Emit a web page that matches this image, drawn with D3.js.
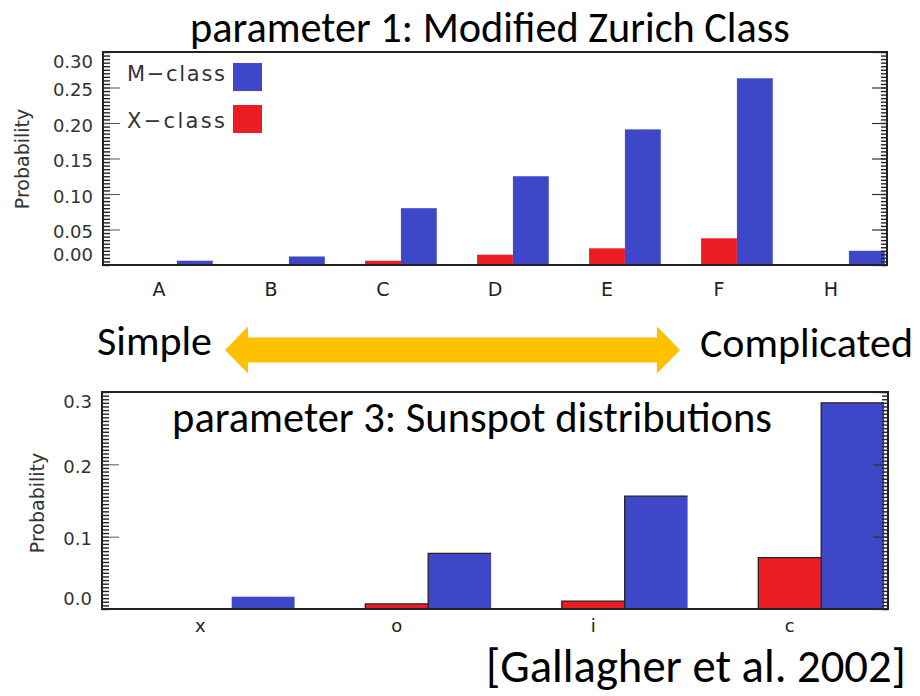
<!DOCTYPE html>
<html><head><meta charset="utf-8">
<script src="https://cdn.jsdelivr.net/npm/d3@7"></script>
<style>body{margin:0;background:#fff;} svg{display:block;}</style>
</head><body>
<svg id="chart" width="920" height="696"></svg>
<script>
// ---------- data ----------
const zurichCats = ["A","B","C","D","E","F","H"];
const zurichM = [0.006, 0.012, 0.080, 0.125, 0.191, 0.263, 0.020];
const zurichX = [0.000, 0.001, 0.006, 0.0145, 0.0235, 0.0376, 0.000];
const zurichTicks = [0, 0.05, 0.10, 0.15, 0.20, 0.25, 0.30];
const zurichTickLabels = ["0.00","0.05","0.10","0.15","0.20","0.25","0.30"];

const spotCats = ["x","o","i","c"];
const spotM = [0.017, 0.077, 0.156, 0.285];
const spotX = [0.000, 0.007, 0.011, 0.071];
const spotTicks = [0, 0.1, 0.2, 0.3];
const spotTickLabels = ["0.0","0.1","0.2","0.3"];

const seriesNames = ["X-class","M-class"];
const legendLabels = ["M\u2212class","X\u2212class"];
const colors = {"M-class":"#3f47c9","X-class":"#ec1c24"};

const titleTop = "parameter 1: Modified Zurich Class";
const titleBottom = "parameter 3: Sunspot distributions";
const leftWord = "Simple", rightWord = "Complicated";
const citation = "[Gallagher et al. 2002]";

// ---------- drawing ----------
const svg = d3.select("#chart");
const sans = "Carlito, Lato, 'Open Sans', sans-serif";
const idl = "'DejaVu Sans', sans-serif";

function fitText(sel, width) {
  sel.attr("font-size", 100);
  const w = sel.node().getComputedTextLength();
  sel.attr("font-size", 100 * width / w);
}

function panel(cfg) {
  const g = svg.append("g");
  const x = d3.scaleBand().domain(cfg.cats).range([cfg.x0, cfg.x1]).padding(0);
  const bw = x.bandwidth();
  const xs = d3.scaleBand().domain(seriesNames).range([0.34 * bw, 0.98 * bw]).padding(0);
  const y = d3.scaleLinear().domain([0, 0.30]).range([cfg.y0, cfg.y1]);

  const rows = [];
  cfg.cats.forEach((c, i) => {
    rows.push({cat: c, s: "X-class", v: cfg.xv[i]});
    rows.push({cat: c, s: "M-class", v: cfg.mv[i]});
  });

  g.selectAll("rect.bar").data(rows.filter(d => d.v > 0)).join("rect")
    .attr("class","bar")
    .attr("x", d => x(d.cat) + xs(d.s))
    .attr("width", xs.bandwidth())
    .attr("y", d => y(d.v))
    .attr("height", d => y(0) - y(d.v))
    .attr("fill", d => colors[d.s]);

  if (cfg.outline) {
    g.selectAll("path.edge").data(rows.filter(d => d.v > 0.005 && !(d.cat === cfg.cats[0]))).join("path")
      .attr("class","edge")
      .attr("d", d => `M${x(d.cat) + xs(d.s)},${y(0)}V${y(d.v)}H${x(d.cat) + xs(d.s) + xs.bandwidth()}`)
      .attr("fill","none").attr("stroke","#222").attr("stroke-width",1.3);
  }

  // minor ticks
  const minor = d3.range(0, 0.3001, 0.005);
  const axL = g.append("g").attr("transform", `translate(${cfg.x0},0)`)
    .call(d3.axisLeft(y).tickValues(minor).tickSize(-7).tickFormat(""));
  const axR = g.append("g").attr("transform", `translate(${cfg.x1},0)`)
    .call(d3.axisRight(y).tickValues(minor).tickSize(-6).tickFormat(""));
  [axL, axR].forEach(a => { a.select(".domain").remove(); a.selectAll("line").attr("stroke","#222").attr("stroke-width",1.4); });

  // major ticks + labels
  const majL = g.append("g").attr("transform", `translate(${cfg.x0},0)`)
    .call(d3.axisLeft(y).tickValues(cfg.ticks).tickSize(-17).tickPadding(10)
      .tickFormat((d, i) => cfg.tickLabels[i]));
  majL.select(".domain").remove();
  majL.selectAll("line").attr("stroke","#555").attr("stroke-width",1);
  majL.selectAll("text").attr("font-family", idl).attr("font-size", cfg.tickFont)
    .attr("fill","#333").attr("text-anchor","end")
    .attr("dy", (d, i) => i === 0 ? "-0.25em" : (i === cfg.ticks.length - 1 ? "0.85em" : "0.45em"));
  const majR = g.append("g").attr("transform", `translate(${cfg.x1},0)`)
    .call(d3.axisRight(y).tickValues(cfg.ticks).tickSize(-15).tickFormat(""));
  majR.select(".domain").remove();
  majR.selectAll("line").attr("stroke","#333").attr("stroke-width",1.2);

  // x axis labels
  const axB = g.append("g").attr("transform", `translate(0,${cfg.y0})`)
    .call(d3.axisBottom(x).tickSize(0).tickPadding(cfg.xPad));
  axB.select(".domain").remove();
  axB.selectAll("text").attr("font-family", idl).attr("font-size", cfg.xFont).attr("fill","#222");

  // frame
  g.append("rect").attr("x", cfg.x0).attr("y", y(0.30)).attr("width", cfg.x1 - cfg.x0)
    .attr("height", y(0) - y(0.30)).attr("fill","none").attr("stroke","#222").attr("stroke-width",2);

  // y title
  g.append("text").attr("transform", `translate(${cfg.ylx},${cfg.yly}) rotate(-90)`)
    .attr("text-anchor","middle").attr("dy","0.35em")
    .attr("font-family", idl).attr("font-size", 19).attr("fill","#333").text("Probability");
  return {x, y, g};
}

const topPanel = panel({cats: zurichCats, mv: zurichM, xv: zurichX, ticks: zurichTicks, tickLabels: zurichTickLabels,
  x0: 103, x1: 887, y0: 265, y1: 52, tickFont: 18, xFont: 19, xPad: 18, ylx: 22, yly: 159, outline: false});

// legend
legendLabels.forEach((lab, i) => {
  const key = i === 0 ? "M-class" : "X-class";
  topPanel.g.append("text").attr("x", 127).attr("y", 81 + i * 47)
    .attr("font-family", idl).attr("font-size", 21).attr("fill","#333")
    .attr("textLength", 98).attr("lengthAdjust","spacing").text(lab);
  topPanel.g.append("rect").attr("x", 233).attr("y", 63 + i * 42).attr("width", 29).attr("height", 28)
    .attr("fill", colors[key]);
});

const botPanel = panel({cats: spotCats, mv: spotM, xv: spotX, ticks: spotTicks, tickLabels: spotTickLabels,
  x0: 102, x1: 888, y0: 609, y1: 392, tickFont: 18, xFont: 18, xPad: 10, ylx: 37, yly: 503, outline: true});

// titles
const t1 = svg.append("text").attr("x", 490).attr("y", 42).attr("text-anchor","middle")
  .attr("font-family", sans).attr("fill","#000").text(titleTop);
fitText(t1, 600);
const t2 = svg.append("text").attr("x", 472).attr("y", 432).attr("text-anchor","middle")
  .attr("font-family", sans).attr("fill","#000").text(titleBottom);
fitText(t2, 600);

// arrow
const ay = 350;
svg.append("path")
  .attr("d", `M225,${ay} L248,${ay-23.5} L248,${ay-12.5} L657,${ay-12.5} L657,${ay-23.5} L680,${ay} L657,${ay+23.5} L657,${ay+12.5} L248,${ay+12.5} L248,${ay+23.5} Z`)
  .attr("fill","#ffc000");
const s1 = svg.append("text").attr("x", 97).attr("y", 355).attr("font-family", sans).attr("fill","#000").text(leftWord);
fitText(s1, 115);
const s2 = svg.append("text").attr("x", 700).attr("y", 357).attr("font-family", sans).attr("fill","#000").text(rightWord);
fitText(s2, 213);

const c1 = svg.append("text").attr("x", 486).attr("y", 682).attr("font-family", sans).attr("fill","#000").text(citation);
fitText(c1, 420);
</script>
</body></html>
